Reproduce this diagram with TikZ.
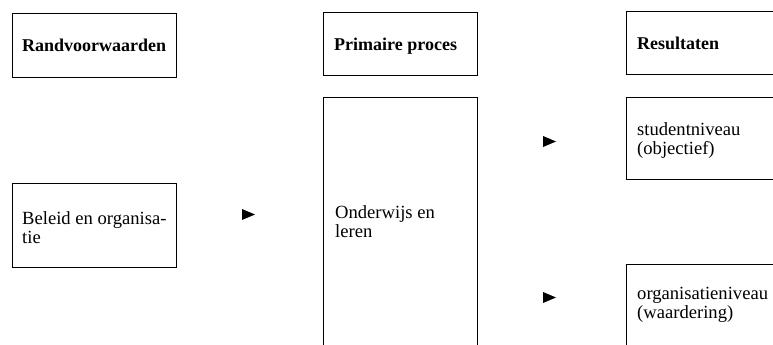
\documentclass[tikz,border=0pt]{standalone}
\usepackage{fontspec}
\setmainfont{Liberation Serif}

\begin{document}
\begin{tikzpicture}[x=1pt,y=-1pt,
		blok/.style={draw,line width=0.8pt,anchor=north west,inner sep=0pt},
		tekst/.style={anchor=base west,align=left,inner sep=0pt,font=\fontsize{18.6}{19}\selectfont},
		kop/.style={tekst,font=\fontsize{18}{19}\selectfont\bfseries}]
				\clip (0,0) rectangle (773,345);
				\node[blok,minimum width=164pt,minimum height=64pt] (rand) at (12,13) {};
				\node[blok,minimum width=154pt,minimum height=63pt] (prim) at (323,12) {};
				\node[blok,minimum width=164pt,minimum height=63pt] (res) at (626,11) {};
				\node[blok,minimum width=164pt,minimum height=84pt] (beleid) at (12,183) {};
				\node[blok,minimum width=154pt,minimum height=263pt] (onderwijs) at (323,97) {};
				\node[blok,minimum width=164pt,minimum height=82pt] (student) at (626,97) {};
				\node[blok,minimum width=164pt,minimum height=96pt] (organisatie) at (626,264) {};
				\node[kop] (randtekst) at (22,52) {Randvoorwaarden};
				\node[kop] (primtekst) at (334,51) {Primaire proces};
				\node[kop] (restekst) at (637,49) {Resultaten};
				\node[tekst] (beleidtekst) at (22,243) {Beleid en organisa-\\tie};
				\node[tekst] (ondertekst) at (335,237) {Onderwijs en\\leren};
				\node[tekst] (studtekst) at (637,154) {studentniveau\\(objectief)};
				\node[tekst] (orgtekst) at (637,318) {organisatieniveau\\(waardering)};
				\fill (242,209) -- (255,214.5) -- (242,220) -- cycle;
				\fill (543,136) -- (556,141.5) -- (543,147) -- cycle;
				\fill (543,292) -- (556,297.5) -- (543,303) -- cycle;
			\end{tikzpicture}
\end{document}
